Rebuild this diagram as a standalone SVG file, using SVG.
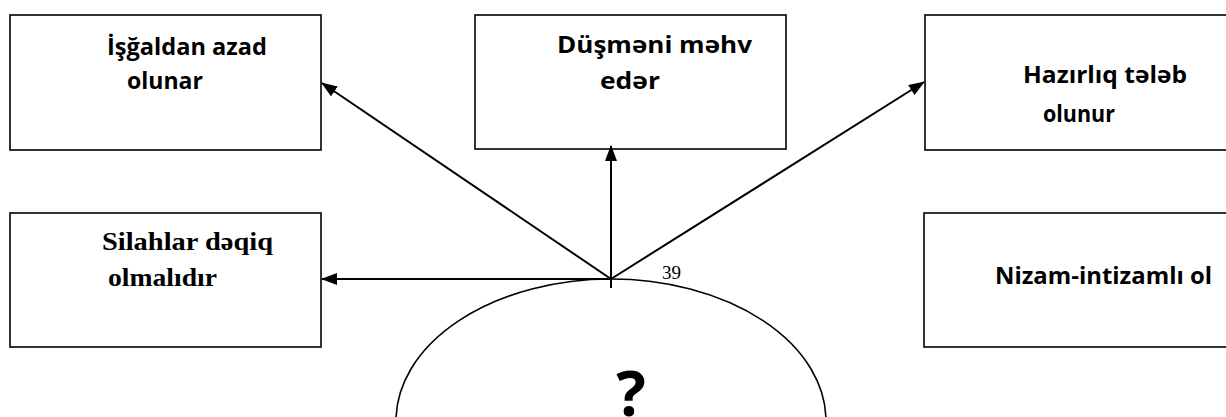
<svg xmlns="http://www.w3.org/2000/svg" width="1226" height="417" viewBox="0 0 1226 417">
<style>
.box{fill:#fff;stroke:#000;stroke-width:1.6}
.sans{font-family:"Open Sans","Noto Sans","Liberation Sans",sans-serif;font-weight:bold;font-size:23px;fill:#000}
.serif{font-family:"Liberation Serif","DejaVu Serif",serif;font-weight:bold;font-size:25px;fill:#000}
.conn{stroke:#000;stroke-width:2;fill:none}
</style>
<defs>
<marker id="ah" markerWidth="16" markerHeight="12" refX="15" refY="6" orient="auto" markerUnits="userSpaceOnUse">
<path d="M0,0 L16,6 L0,12 Z" fill="#000"/>
</marker>
</defs>
<rect width="1226" height="417" fill="#fff"/>
<g id="node-isgaldan">
<rect class="box" x="10" y="15" width="311" height="135"/>
<text class="sans" x="107" y="55" textLength="160" lengthAdjust="spacingAndGlyphs">İşğaldan azad</text>
<text class="sans" x="127" y="89" textLength="76" lengthAdjust="spacingAndGlyphs">olunar</text>
</g>
<g id="node-dusmeni">
<rect class="box" x="475" y="15" width="311" height="134"/>
<text class="sans" x="557" y="53" textLength="195" lengthAdjust="spacingAndGlyphs">Düşməni məhv</text>
<text class="sans" x="600" y="89" textLength="60" lengthAdjust="spacingAndGlyphs">edər</text>
</g>
<g id="node-hazirliq">
<rect class="box" x="925" y="15" width="310" height="135"/>
<text class="sans" x="1023" y="83" textLength="164" lengthAdjust="spacingAndGlyphs">Hazırlıq tələb</text>
<text class="sans" x="1043" y="122" textLength="72" lengthAdjust="spacingAndGlyphs">olunur</text>
</g>
<g id="node-silahlar">
<rect class="box" x="10" y="213" width="311" height="134"/>
<text class="serif" x="102" y="250" textLength="171" lengthAdjust="spacingAndGlyphs">Silahlar dəqiq</text>
<text class="serif" x="108" y="286" textLength="109" lengthAdjust="spacingAndGlyphs">olmalıdır</text>
</g>
<g id="node-nizam">
<rect class="box" x="924" y="213" width="310" height="134"/>
<text class="sans" x="995" y="284" textLength="217" lengthAdjust="spacingAndGlyphs">Nizam-intizamlı ol</text>
</g>
<g id="node-center">
<ellipse cx="611" cy="421" rx="215" ry="142" fill="#fff" stroke="#000" stroke-width="1.6"/>
<text x="631" y="416" text-anchor="middle" font-family="Open Sans, Noto Sans, sans-serif" font-weight="bold" font-size="62" fill="#000">?</text>
</g>
<g id="connectors">
<line class="conn" x1="611" y1="288" x2="611" y2="146" marker-end="url(#ah)"/>
<line class="conn" x1="611" y1="279" x2="322" y2="83" marker-end="url(#ah)"/>
<line class="conn" x1="611" y1="279" x2="924" y2="82" marker-end="url(#ah)"/>
<line class="conn" x1="611" y1="279" x2="322" y2="279" marker-end="url(#ah)"/>
</g>
<text x="662" y="279" font-family="Liberation Serif, Times New Roman, serif" font-size="19" fill="#000">39</text>
</svg>
